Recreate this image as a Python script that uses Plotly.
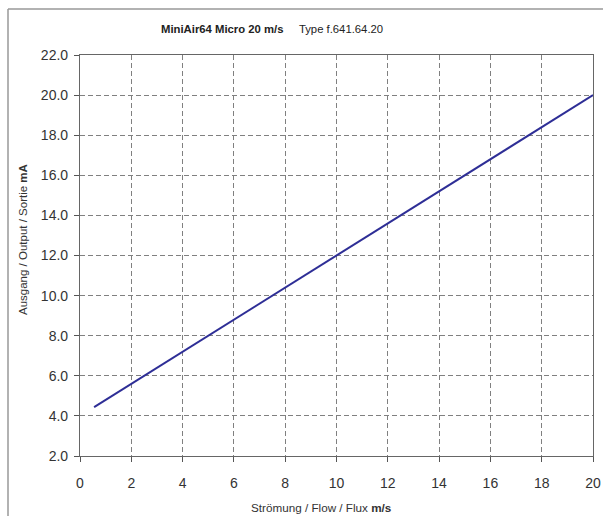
import plotly.graph_objects as go

flow = [0.55, 20.0]
output_ma = [4.44, 20.0]
x_ticks = [0, 2, 4, 6, 8, 10, 12, 14, 16, 18, 20]
y_ticks = [2, 4, 6, 8, 10, 12, 14, 16, 18, 20, 22]

W, H = 603, 516
L, R, T, B = 80, 10, 55, 60
pw, ph = W - L - R, H - T - B

def px(x):
    return (x - L) / pw

def py(y):
    return 1 - (y - T) / ph

fig = go.Figure()
fig.add_trace(go.Scatter(x=flow, y=output_ma, mode="lines",
                         line=dict(color="#2E2E96", width=2), showlegend=False,
                         hoverinfo="skip"))

axis_common = dict(showline=True, linecolor="#666666", linewidth=1.2, mirror=True,
                   ticks="outside", ticklen=5, tickcolor="#555555",
                   showgrid=True, gridcolor="#808080", gridwidth=1, griddash="5px,3px",
                   zeroline=False, automargin=False,
                   tickfont=dict(family="Liberation Sans, Arial", size=14, color="#333333"))

fig.update_xaxes(range=[0, 20], tickvals=x_ticks, ticktext=[str(v) for v in x_ticks],
                 ticklabelstandoff=9, **axis_common)
fig.update_yaxes(range=[2, 22], tickvals=y_ticks, ticktext=[f"{v:.1f}" for v in y_ticks],
                 ticklabelstandoff=3, **axis_common)

ann = [
    dict(text="<b>MiniAir64 Micro 20 m/s</b>     Type f.641.64.20", x=px(272), y=py(29),
         xref="paper", yref="paper", showarrow=False, xanchor="center", yanchor="middle",
         font=dict(family="Liberation Sans, Arial", size=11.3, color="#222222")),
    dict(text="Strömung / Flow / Flux <b>m/s</b>", x=px(321), y=py(507),
         xref="paper", yref="paper", showarrow=False, xanchor="center", yanchor="middle",
         font=dict(family="Liberation Sans, Arial", size=11.7, color="#333333")),
    dict(text="Ausgang / Output / Sortie <b>mA</b>", x=px(23), y=py(240), textangle=-90,
         xref="paper", yref="paper", showarrow=False, xanchor="center", yanchor="middle",
         font=dict(family="Liberation Sans, Arial", size=11.5, color="#333333")),
]

shapes = [
    dict(type="line", xref="paper", yref="paper", x0=px(8), x1=px(W + 5), y0=py(9), y1=py(9),
         line=dict(color="#999999", width=1.5)),
    dict(type="line", xref="paper", yref="paper", x0=px(8), x1=px(8), y0=py(9), y1=py(H + 5),
         line=dict(color="#999999", width=1.5)),
]

fig.update_layout(width=W, height=H, margin=dict(l=L, r=R, t=T, b=B, autoexpand=False),
                  paper_bgcolor="white", plot_bgcolor="white",
                  annotations=ann, shapes=shapes)

fig.write_html("out.html")
